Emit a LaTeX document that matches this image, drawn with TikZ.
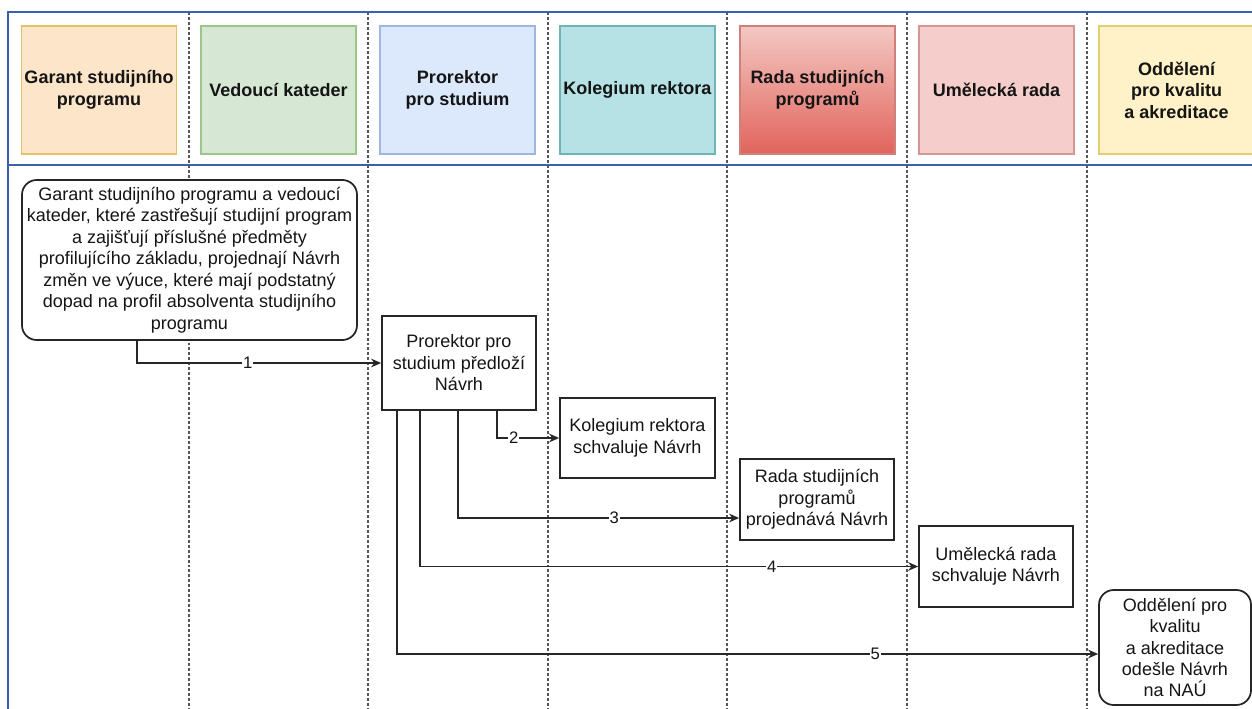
\documentclass[tikz,border=0pt]{standalone}
\usepackage{fontspec}
\setmainfont{Liberation Sans}
\usetikzlibrary{calc,arrows.meta}
\definecolor{frameblue}{HTML}{3C5FAE}
\definecolor{txt}{HTML}{151515}
\definecolor{lanegray}{HTML}{555555}
\definecolor{fOrange}{HTML}{FDE5C9}\definecolor{sOrange}{HTML}{E6C066}
\definecolor{fGreen}{HTML}{D6E8D4}\definecolor{sGreen}{HTML}{9CC588}
\definecolor{fBlue}{HTML}{DCE8FC}\definecolor{sBlue}{HTML}{9FB7DF}
\definecolor{fTeal}{HTML}{B6E2E6}\definecolor{sTeal}{HTML}{6FB3B7}
\definecolor{fRedTop}{HTML}{F4C8C4}\definecolor{fRedBot}{HTML}{E1645C}\definecolor{sRed}{HTML}{D0807A}
\definecolor{fPink}{HTML}{F5CDCB}\definecolor{sPink}{HTML}{D39692}
\definecolor{fYellow}{HTML}{FFF2C8}\definecolor{sYellow}{HTML}{E2CD73}
\begin{document}
\begin{tikzpicture}[x=0.75pt,y=-0.75pt,
  hdr/.style={line width=1.1pt, minimum width=116.25pt, minimum height=96pt, inner sep=0pt,
    align=center, text=txt, font=\bfseries\fontsize{13.5}{16.1}\selectfont},
  body/.style={draw=black!85, line width=1.3pt, fill=white, text=txt, inner sep=0pt,
    align=center, font=\fontsize{13.5}{16.1}\selectfont},
  rbody/.style={body, rounded corners=11pt},
  lane/.style={draw=lanegray, line width=1.1pt, dash pattern=on 2.2pt off 1.5pt},
  conn/.style={draw=black!85, line width=1.15pt, -{Stealth[length=7.5pt,width=6.5pt]}},
  lbl/.style={fill=white, inner sep=0.6pt, text=txt, font=\fontsize{12.5}{14}\selectfont},
  frame/.style={draw=frameblue, line width=1.7pt}]
\useasboundingbox (0,0) rectangle (1252,709);
\fill[white] (0,0) rectangle (1252,709);

% lanes
\foreach \lx in {189,368,548,727,907,1087}
  \draw[lane] (\lx,12) -- (\lx,709);

% frame
\draw[frame] (8,709) -- (8,12) -- (1252,12);
\draw[frame] (8,165) -- (1252,165);

% header boxes
\node[hdr, draw=sOrange, fill=fOrange] (h1) at (99,90) {Garant studijního\\programu};
\node[hdr, draw=sGreen, fill=fGreen] (h2) at (278.5,90) {Vedoucí kateder};
\node[hdr, draw=sBlue, fill=fBlue] (h3) at (457.5,90) {Prorektor\\pro studium};
\node[hdr, draw=sTeal, fill=fTeal] (h4) at (637.5,90) {Kolegium rektora};
\node[hdr, draw=sRed, top color=fRedTop, bottom color=fRedBot] (h5) at (817.5,90) {Rada studijních\\programů};
\node[hdr, draw=sPink, fill=fPink] (h6) at (996.5,90) {Umělecká rada};
\node[hdr, draw=sYellow, fill=fYellow] (h7) at (1176.5,90) {Oddělení\\pro kvalitu\\a akreditace};

% body boxes
\node[rbody, minimum width=251.25pt, minimum height=120pt] (g) at (189.5,260)
  {Garant studijního programu a vedoucí\\kateder, které zastřešují studijní program\\a zajišťují příslušné předměty\\profilujícího základu, projednají Návrh\\změn ve výuce, které mají podstatný\\dopad na profil absolventa studijního\\programu};
\node[body, minimum width=115.5pt, minimum height=70.5pt] (pr) at (459,363)
  {Prorektor pro\\studium předloží\\Návrh};
\node[body, minimum width=116.25pt, minimum height=60pt] (kr) at (637.5,438)
  {Kolegium rektora\\schvaluje Návrh};
\node[body, minimum width=115.5pt, minimum height=60.75pt] (rd) at (817,499.5)
  {Rada studijních\\programů\\projednává Návrh};
\node[body, minimum width=115.5pt, minimum height=60.75pt] (ur) at (996,566.5)
  {Umělecká rada\\schvaluje Návrh};
\node[rbody, minimum width=114pt, minimum height=86.25pt] (od) at (1175,647.5)
  {Oddělení pro\\kvalitu\\a akreditace\\odešle Návrh\\na NAÚ};

% connectors
\draw[conn] ($(g.south)+(-52.5,0)$) |- node[lbl,pos=0.727]{1} (pr.west);
\draw[conn] ($(pr.south)+(38,0)$) |- node[lbl,pos=0.635]{2} (kr.west);
\draw[conn] ($(pr.south)+(-1,0)$) |- node[lbl,pos=0.778]{3} ($(rd.west)+(0,18.5)$);
\draw[conn] ($(pr.south)+(-39,0)$) |- node[lbl,pos=0.853]{4} (ur.west);
\draw[conn] ($(pr.south)+(-62,0)$) |- node[lbl,pos=0.841]{5} ($(od.west)+(0,6.5)$);
\end{tikzpicture}
\end{document}
